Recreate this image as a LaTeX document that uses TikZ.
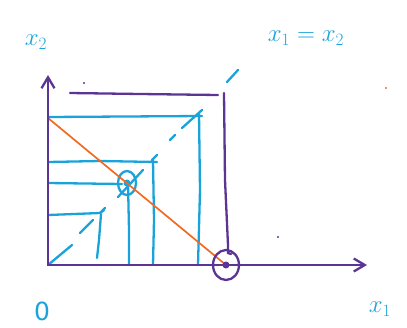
\documentclass[tikz,border=0pt]{standalone}
\usepackage{fontspec}
\setmainfont{DejaVu Sans}
\usetikzlibrary{arrows.meta}
\definecolor{pblue}{HTML}{1AA3DB}
\definecolor{ppurple}{HTML}{5C3494}
\definecolor{porange}{HTML}{F26A1F}
\tikzset{
  bl/.style={draw=pblue, line width=2.3pt, line cap=round},
  pu/.style={draw=ppurple, line width=2.3pt, line cap=round},
  orl/.style={draw=porange, line width=1.7pt, line cap=round},
  axis/.style={pu, -{Straight Barb[length=11pt,width=13pt,line width=2.3pt]}},
  lab/.style={text=pblue, font=\fontsize{25}{25}\selectfont, inner sep=0pt}
}
\begin{document}
\begin{tikzpicture}[x=1pt,y=-1pt]
\useasboundingbox (0,0) rectangle (407,327);
% named points
\coordinate (O) at (48,265);
\coordinate (ytop) at (48,75);
\coordinate (xend) at (367,265);
\coordinate (M) at (226,265);
\coordinate (P) at (127,183);
% blue step lines
\draw[bl] (48,117) -- (202,116);
\draw[bl] (199,113) -- (200,190) -- (198,265);
\draw[bl] (48,162) -- (100,161) -- (157,162);
\draw[bl] (153,160) -- (154,220) -- (153,265);
\draw[bl] (48,183) -- (122,184);
\draw[bl] (128,183) -- (129,230) -- (129,265);
\draw[bl] (48,215) -- (100,213) -- (104,210);
\draw[bl] (101,214) -- (99,240) -- (97,258);
% dashed diagonal
\draw[bl] (O) -- (72,245);
\draw[bl] (80,233) -- (93,220);
\draw[bl] (100,213) -- (105,208);
\draw[bl] (118,197) -- (143,170);
\draw[bl] (152,160) -- (157,155);
\draw[bl] (170,140) -- (175,135);
\draw[bl] (182,128) -- (202,110);
\draw[bl] (227,82) -- (238,70);
% circle at tangency point
\draw[bl] (P) ellipse [x radius=9pt, y radius=12pt];
\fill[pblue] (P) circle (3.5pt);
% orange budget line
\draw[orl] (48,118) -- (M);
% purple lines
\draw[pu] (70,93) -- (140,94) -- (218,95);
\draw[pu] (224,93) -- (225,180) -- (228,245) -- (228,253) -- (231,254);
\draw[pu] (M) ellipse [x radius=13pt, y radius=15pt];
\fill[ppurple] (M) circle (3.5pt);
% axes
\draw[axis] (O) -- (ytop);
\draw[axis] (O) -- (xend);
% stray dots
\fill[ppurple] (84,83) circle (1.2pt);
\fill[ppurple] (278,237) circle (1.2pt);
\fill[porange] (386,88) circle (1.2pt);
% labels
\node[lab] (lx2) at (36,42) {$x_2$};
\node[lab] (ldiag) at (306,38) {$x_1 = x_2$};
\node[lab] (l0) at (42,311) {0};
\node[lab] (lx1) at (380,309) {$x_1$};
\end{tikzpicture}
\end{document}
